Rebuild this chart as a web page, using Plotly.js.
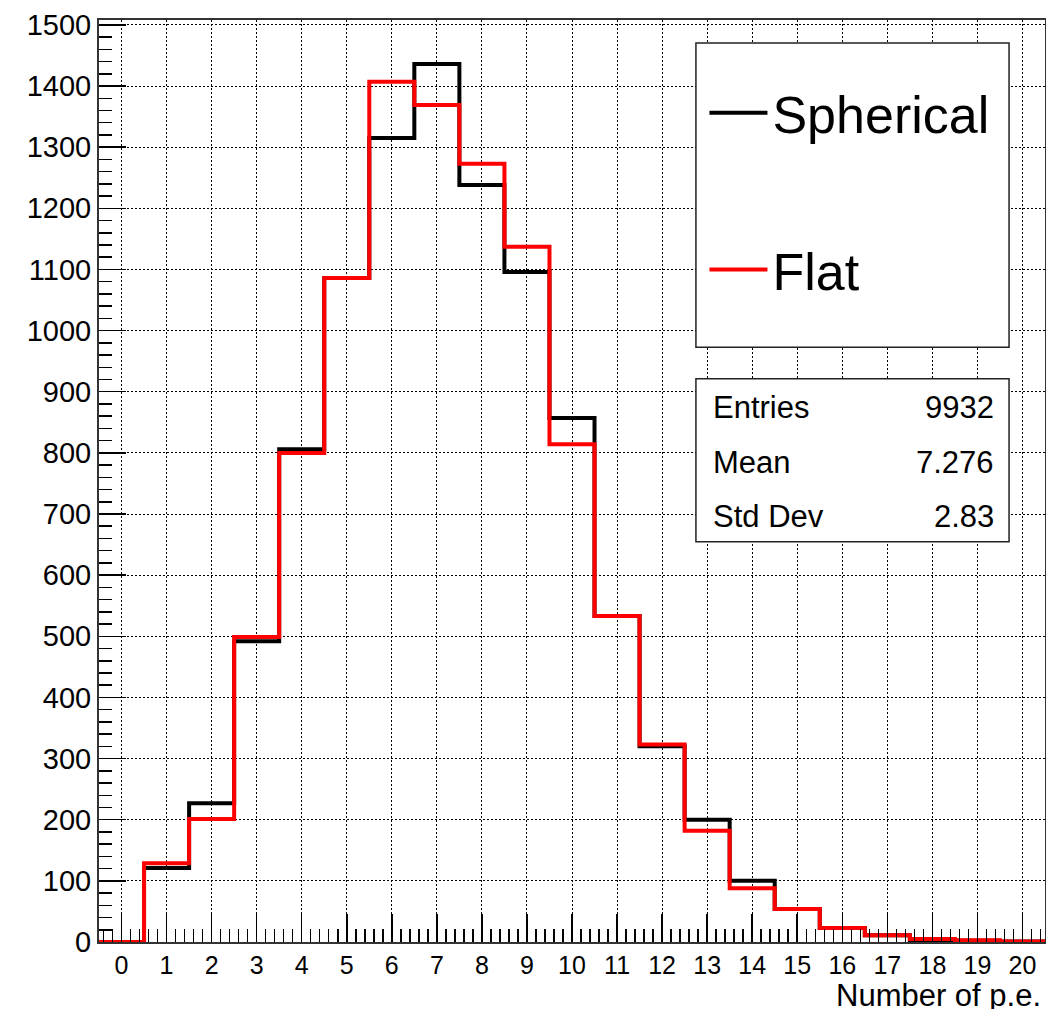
<!DOCTYPE html>
<html>
<head>
<meta charset="utf-8">
<script src="https://cdn.plot.ly/plotly-3.0.1.min.js"></script>
<style>html,body{margin:0;padding:0;background:#fff;}#chart{width:1046px;height:1012px;}</style>
</head>
<body>
<div id="chart"></div>
<script>
// Bin centers (number of photoelectrons), bin width 1
const binCenters = [0,1,2,3,4,5,6,7,8,9,10,11,12,13,14,15,16,17,18,19,20];
const sphericalCounts = [0,121,227,492,806,1086,1315,1436,1238,1096,857,533,320,200,100,54,23,11,3,2,1];
const flatCounts = [0,129,201,499,800,1086,1407,1369,1273,1137,814,533,323,182,88,54,23,11,5,3,1];
const seriesNames = ["Spherical", "Flat"];
const statLabels = ["Entries", "Mean", "Std Dev"];
const statValues = ["9932", "7.276", "2.83"];
const xTitle = "Number of p.e.";

const binWidth = 1;
function stepX(centers) {
  const xs = centers.map(c => c - binWidth / 2);
  xs.push(centers[centers.length - 1] + binWidth / 2);
  return xs;
}
function stepY(vals) {
  return vals.concat([vals[vals.length - 1]]);
}

const FONT = "Liberation Sans, Arial, Helvetica, sans-serif";

const traces = [
  {
    type: "scatter", mode: "lines", name: seriesNames[0], legendgroup: "g1",
    x: stepX(binCenters), y: stepY(sphericalCounts),
    line: {shape: "hv", color: "#000000", width: 4},
    hoverinfo: "skip"
  },
  {
    type: "scatter", mode: "lines", name: seriesNames[1], legendgroup: "g2",
    x: stepX(binCenters), y: stepY(flatCounts),
    line: {shape: "hv", color: "#ff0000", width: 4},
    hoverinfo: "skip"
  }
];

const statY = [0.580, 0.5206, 0.461];
const annotations = [];
statLabels.forEach((lab, i) => {
  annotations.push({xref: "paper", yref: "paper", x: 0.647, y: statY[i], xanchor: "left", yanchor: "middle",
    text: lab, showarrow: false, font: {family: FONT, size: 31, color: "#000"}});
  annotations.push({xref: "paper", yref: "paper", x: 0.948, y: statY[i], xanchor: "right", yanchor: "middle",
    text: statValues[i], showarrow: false, font: {family: FONT, size: 31, color: "#000"}});
});
annotations.push({xref: "paper", yref: "paper", x: 0.998, y: -0.0575, xanchor: "right", yanchor: "middle",
  height: 28, valign: "middle",
  text: xTitle, showarrow: false, font: {family: FONT, size: 31, color: "#000"}});

const gridDash = "2px,2px";

const layout = {
  width: 1046, height: 1012,
  margin: {l: 99, r: 1, t: 20, b: 70, pad: 0},
  paper_bgcolor: "#ffffff", plot_bgcolor: "#ffffff",
  font: {family: FONT, color: "#000"},
  showlegend: true,
  xaxis: {
    range: [-0.5, 20.5], autorange: false,
    tickmode: "linear", tick0: 0, dtick: 1,
    ticks: "inside", ticklen: 28, tickwidth: 1.5, tickcolor: "#000",
    minor: {dtick: 0.2, tick0: 0, ticks: "inside", ticklen: 13, tickwidth: 1.5, tickcolor: "#000", showgrid: false},
    showgrid: true, gridcolor: "#000", gridwidth: 1, griddash: gridDash,
    showline: true, linecolor: "#333", linewidth: 2, mirror: true,
    zeroline: false,
    tickfont: {family: FONT, size: 25, color: "#000"}
  },
  yaxis: {
    range: [0, 1508], autorange: false,
    tickmode: "linear", tick0: 0, dtick: 100,
    ticks: "inside", ticklen: 27, tickwidth: 1.5, tickcolor: "#000",
    minor: {dtick: 20, tick0: 0, ticks: "inside", ticklen: 13, tickwidth: 1.5, tickcolor: "#000", showgrid: false},
    showgrid: true, gridcolor: "#000", gridwidth: 1, griddash: gridDash,
    showline: true, linecolor: "#333", linewidth: 2, mirror: true,
    zeroline: false,
    tickfont: {family: FONT, size: 29, color: "#000"}
  },
  legend: {
    x: 0.640, y: 0.943, xanchor: "left", yanchor: "top",
    bgcolor: "rgba(0,0,0,0)", borderwidth: 0,
    font: {family: FONT, size: 52, color: "#000"},
    itemwidth: 58, tracegroupgap: 86, traceorder: "grouped"
  },
  shapes: [
    {type: "rect", xref: "paper", yref: "paper", x0: 0.631, x1: 0.962, y0: 0.645, y1: 0.975,
      line: {color: "#222", width: 1.5}, fillcolor: "#ffffff", layer: "above"},
    {type: "rect", xref: "paper", yref: "paper", x0: 0.631, x1: 0.962, y0: 0.434, y1: 0.611,
      line: {color: "#222", width: 1.5}, fillcolor: "#ffffff", layer: "above"}
  ],
  annotations: annotations
};

Plotly.newPlot("chart", traces, layout, {staticPlot: true, displayModeBar: false});
</script>
</body>
</html>
